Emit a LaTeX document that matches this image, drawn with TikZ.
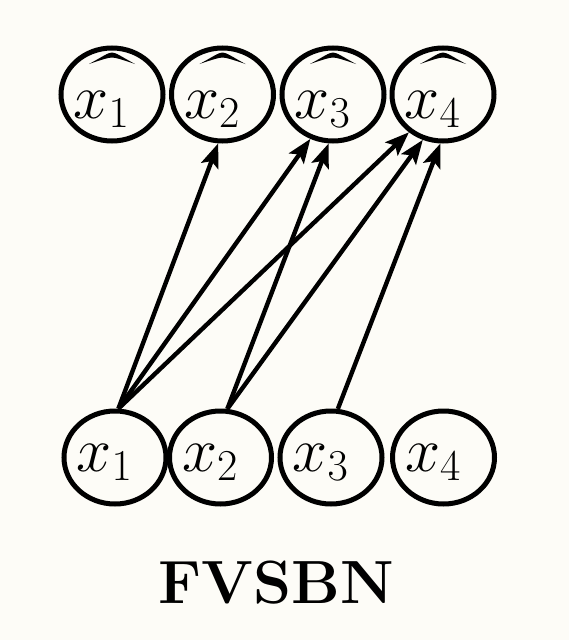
\RequirePackage{fix-cm}
\documentclass[tikz,border=0pt]{standalone}
\usetikzlibrary{shapes.geometric,arrows.meta}
\definecolor{paper}{RGB}{253,252,247}
% variable label set in a zero-size box: #1 index, #2 drop of the baseline below the centre
\newcommand\varlabel[2]{\raisebox{-#2}[0pt][0pt]{\makebox[0pt]{$x_{#1}$\hspace*{21pt}}}}
\begin{document}
\begin{tikzpicture}[x=1pt,y=-1pt,
  unit/.style={ellipse,draw,line width=5pt,minimum width=102pt,minimum height=93pt,
    inner sep=0pt,font=\fontsize{63}{63}\selectfont},
  edge/.style={line width=4.4pt,-{Stealth[length=24pt,width=18pt,inset=5pt]}},
  hatmark/.style={fill=black}]
\fill[paper] (0,0) rectangle (569,640);
\useasboundingbox (0,0) rectangle (569,640);

% output units (reconstructions)
\node[unit] (h1) at (112,94.5)  {\varlabel{1}{24pt}};
\node[unit] (h2) at (222.5,94.5){\varlabel{2}{24pt}};
\node[unit] (h3) at (333,94.5)  {\varlabel{3}{24pt}};
\node[unit] (h4) at (443,94.5)  {\varlabel{4}{24pt}};

% hats over the output variables
\foreach \n in {h1,h2,h3,h4}{
  \fill[hatmark,shift={(\n)}] (-23,-30.5) .. controls (-10,-37.5) and (-4,-42) .. (0,-42)
    .. controls (4,-42) and (10,-37.5) .. (23,-30.5)
    .. controls (10,-35) and (3,-37) .. (0,-37)
    .. controls (-3,-37) and (-10,-35) .. cycle;
}

% input units
\node[unit] (b1) at (115,457.5)   {\varlabel{1}{14pt}};
\node[unit] (b2) at (220.5,457.5) {\varlabel{2}{14pt}};
\node[unit] (b3) at (331,457.5)   {\varlabel{3}{14pt}};
\node[unit] (b4) at (443.5,457.5) {\varlabel{4}{14pt}};

% autoregressive connections
\draw[edge] (b1.86) -- (h2.-95);
\draw[edge] (b1.86) -- (h3.-117);
\draw[edge] (b1.86) -- (h4.-132);
\draw[edge] (b2.82) -- (h3.-95);
\draw[edge] (b2.82) -- (h4.-114);
\draw[edge] (b3.82) -- (h4.-93);

\node[font=\fontsize{61}{61}\selectfont\bfseries] (title) at (276,583) {FVSBN};
\end{tikzpicture}
\end{document}
